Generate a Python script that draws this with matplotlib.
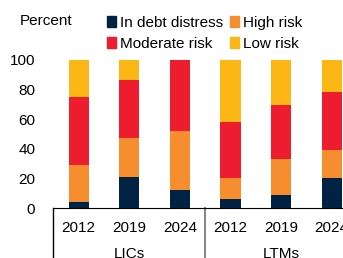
import numpy as np
import matplotlib.pyplot as plt
from matplotlib.patches import Patch
from matplotlib.transforms import blended_transform_factory

plt.rcParams['font.family'] = ['Liberation Sans', 'DejaVu Sans']

# 数据
years = ['2012', '2019', '2024', '2012', '2019', '2024']
groups = ['LICs', 'LTMs']
debt_distress = [4.0, 21.0, 12.5, 6.3, 9.2, 20.6]
high_risk = [25.4, 26.6, 39.6, 13.9, 23.8, 18.5]
moderate_risk = [45.4, 39.0, 47.9, 38.0, 36.7, 39.5]
low_risk = [25.2, 13.4, 0.0, 41.8, 30.3, 21.4]

colors = ['#002245', '#F68D2E', '#ED1C2E', '#FDB714']
labels = ['In debt distress', 'High risk', 'Moderate risk', 'Low risk']

fig = plt.figure(figsize=(3.43, 2.58), dpi=100)
ax = fig.add_axes([0.1557, 0.1926, 0.885, 0.575])

x = np.arange(len(years))
bottom = np.zeros(len(years))
for vals, c in zip([debt_distress, high_risk, moderate_risk, low_risk], colors):
    ax.bar(x, vals, 0.4, bottom=bottom, color=c)
    bottom += np.array(vals)

ax.set_xlim(-0.5, 5.5)
ax.set_ylim(0, 100)
ax.set_yticks([0, 20, 40, 60, 80, 100])
ax.set_xticks(x)
ax.set_xticklabels(years)
ax.tick_params(length=0, labelsize=11)
ax.tick_params(axis='y', pad=13)
ax.tick_params(axis='x', pad=9)
for s in ['top', 'right', 'left']:
    ax.spines[s].set_visible(False)

# 分组标签和分隔线
tr = blended_transform_factory(ax.transData, ax.transAxes)
ax.plot([-0.5, -0.5], [0, -0.35], color='black', lw=1, transform=tr, clip_on=False)
ax.plot([2.5, 2.5], [0, -0.35], color='#888888', lw=1.5, transform=tr, clip_on=False)
ax.text(1, -0.31, groups[0], transform=tr, ha='center', va='center', fontsize=11)
ax.text(4, -0.31, groups[1], transform=tr, ha='center', va='center', fontsize=11)

fig.text(0.058, 0.92, 'Percent', fontsize=11, va='center')
# 图例按行排列 (matplotlib 按列填充, 所以调整顺序)
order = [0, 2, 1, 3]
handles = [Patch(color=colors[i]) for i in order]
fig.legend(handles, [labels[i] for i in order], loc='upper left',
           bbox_to_anchor=(0.275, 0.985), ncol=2,
           frameon=False, fontsize=11, handlelength=0.6, handleheight=0.7,
           handletextpad=0.3, columnspacing=0.4, labelspacing=0.45, borderpad=0.3)

plt.savefig('out.png', dpi=100)
